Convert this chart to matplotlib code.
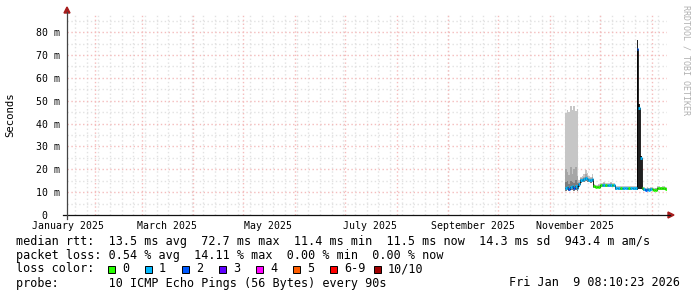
import matplotlib
matplotlib.use('Agg')
import matplotlib.pyplot as plt
import matplotlib.dates as mdates
from matplotlib.patches import Polygon, Rectangle
import numpy as np
import pandas as pd

# dati (valori giornalieri in ms, dal 10 nov 2025)
first_day = '2025-11-10'
median = [11.8, 12.4, 11.5, 12.2, 12.8, 11.6, 12.5, 11.9,
          13.5, 15.3, 15.5, 15.8, 16.4, 15.6, 15.5, 15.4, 15.6,
          12.6, 12.4, 12.3, 12.4, 13.0,
          13.1, 13.2, 13.1, 13.0, 13.1, 13.2, 13.1, 13.0,
          11.7, 11.8, 11.6, 11.7, 11.7, 11.6, 11.8, 11.7, 11.6, 11.7, 11.8, 11.7, 11.6,
          72.7, 47.0, 25.0,
          11.6, 11.2, 11.0, 11.3, 11.1, 11.5,
          11.4, 11.0, 11.1, 11.6, 11.7, 11.6, 11.7, 11.6, 11.5, 11.5]
loss = [1, 1, 2, 1, 1, 2, 1, 1,
        1, 1, 1, 1, 1, 1, 1, 1, 1,
        0, 0, 0, 0, 0,
        1, 1, 0, 1, 1, 1, 0, 1,
        1, 1, 1, 0, 1, 1, 1, 1, 0, 1, 1, 1, 1,
        2, 1, 1,
        0, 1, 2, 1, 1, 1,
        0, 0, 0, 0, 0, 0, 0, 0, 0, 0]
ping_min = [10.6, 10.9, 10.5, 10.8, 11.0, 10.6, 10.9, 10.7,
            12.2, 14.1, 14.3, 14.5, 14.8, 14.4, 14.3, 14.2, 14.4,
            11.8, 11.7, 11.6, 11.7, 12.2,
            12.3, 12.4, 12.3, 12.2, 12.3, 12.4, 12.3, 12.2,
            11.1, 11.2, 11.0, 11.1, 11.1, 11.0, 11.2, 11.1, 11.0, 11.1, 11.2, 11.1, 11.0,
            11.0, 11.2, 11.3,
            11.0, 10.7, 10.5, 10.8, 10.6, 10.9,
            10.9, 10.5, 10.6, 11.0, 11.1, 11.0, 11.1, 11.0, 10.9, 10.9]
ping_max = [44.5, 46.0, 45.0, 47.5, 46.0, 47.8, 45.5, 46.2,
            15.5, 16.8, 17.2, 17.8, 19.6, 18.2, 17.0, 16.6, 18.0,
            13.6, 13.3, 13.2, 13.5, 14.2,
            14.0, 14.4, 13.9, 14.1, 14.2, 14.5, 14.0, 13.9,
            12.6, 12.9, 12.5, 12.7, 12.8, 12.5, 12.9, 12.6, 12.6, 12.8, 12.9, 12.7, 12.5,
            76.6, 48.5, 25.8,
            12.4, 12.1, 11.9, 12.3, 12.0, 12.4,
            12.2, 11.8, 12.0, 12.5, 12.6, 12.4, 12.6, 12.5, 12.3, 12.3]
ping_mid = [20.0, 19.0, 17.5, 21.0, 18.0, 20.0, 21.2, 17.2,
            14.5, 16.0, 16.3, 16.6, 17.8, 16.9, 16.2, 16.0, 16.6,
            13.0, 12.9, 12.8, 13.0, 13.6,
            13.6, 13.8, 13.5, 13.5, 13.6, 13.8, 13.5, 13.4,
            12.2, 12.4, 12.1, 12.2, 12.3, 12.1, 12.4, 12.2, 12.1, 12.3, 12.4, 12.2, 12.1,
            76.6, 48.5, 25.8,
            12.0, 11.7, 11.5, 11.8, 11.6, 12.0,
            11.9, 11.5, 11.6, 12.1, 12.2, 12.1, 12.2, 12.1, 11.9, 11.9]
ping_core = [14.5, 15.0, 13.6, 15.0, 14.6, 14.0, 15.4, 14.0,
             13.9, 15.6, 15.8, 16.1, 16.8, 15.9, 15.8, 15.7, 15.9,
             12.7, 12.6, 12.5, 12.6, 13.3,
             13.4, 13.5, 13.3, 13.2, 13.3, 13.5, 13.3, 13.2,
             11.9, 12.0, 11.8, 11.9, 11.9, 11.8, 12.0, 11.9, 11.8, 11.9, 12.0, 11.9, 11.8,
             76.6, 48.5, 25.8,
             11.8, 11.4, 11.2, 11.5, 11.3, 11.7,
             11.6, 11.2, 11.3, 11.8, 11.9, 11.8, 11.9, 11.8, 11.7, 11.7]

loss_labels = ['0', '1', '2', '3', '4', '5', '6-9', '10/10']
loss_colors = ['#26ff00', '#00b8ff', '#0059ff', '#5e00ff', '#ff00ff', '#ff5e00', '#ff0000', '#a00000']

y_ticks = [0, 10, 20, 30, 40, 50, 60, 70, 80]
y_tick_labels = ['0  ', '10 m', '20 m', '30 m', '40 m', '50 m', '60 m', '70 m', '80 m']
x_label_months = ['2025-01-01', '2025-03-01', '2025-05-01', '2025-07-01', '2025-09-01', '2025-11-01']
x_labels = ['January 2025', 'March 2025', 'May 2025', 'July 2025', 'September 2025', 'November 2025']

legend_rows = ['median rtt:  13.5 ms avg  72.7 ms max  11.4 ms min  11.5 ms now  14.3 ms sd  943.4 m am/s',
               'packet loss: 0.54 % avg  14.11 % max  0.00 % min  0.00 % now',
               'loss color:',
               'probe:       10 ICMP Echo Pings (56 Bytes) every 90s']
timestamp = 'Fri Jan  9 08:10:23 2026'

W, H = 697, 297
mono = 'DejaVu Sans Mono'

def fx(x):
    return x / W

def fy(y):
    return 1 - y / H

fig = plt.figure(figsize=(W / 100, H / 100), dpi=100)
fig.patch.set_facecolor('white')
ax = fig.add_axes([fx(67), fy(215), 600 / W, 202 / H])
ax.set_facecolor('white')
for s in ax.spines.values():
    s.set_visible(False)

t0 = pd.Timestamp('2025-01-15 05:00')
t1 = pd.Timestamp('2026-01-10 05:00')
ax.set_xlim(mdates.date2num(t0), mdates.date2num(t1))
ax.set_ylim(0, 88.4)

# griglia: settimane (minore), mesi (maggiore)
weeks = pd.date_range('2025-01-20', t1, freq='7D')
months = pd.date_range('2025-02-01', t1, freq='MS')
gkw = dict(lw=1.0, ls=(0, (1, 1.8)), snap=True)
ax.vlines(mdates.date2num(weeks), 0, 88.4, colors='#e2e2e2', zorder=1, **gkw)
ax.hlines(np.arange(5, 88, 10), mdates.date2num(t0), mdates.date2num(t1), colors='#e2e2e2', zorder=1, **gkw)
ax.vlines(mdates.date2num(months), 0, 88.4, colors='#f4bcbc', zorder=2, **gkw)
ax.hlines(np.arange(10, 85, 10), mdates.date2num(t0), mdates.date2num(t1), colors='#f4bcbc', zorder=2, **gkw)

# smoke
days = pd.date_range(first_day, periods=len(median), freq='D')
edges = mdates.date2num(list(days) + [days[-1] + pd.Timedelta(days=1)])
lo = np.array(ping_min)
core = np.array(ping_core)
ax.stairs(ping_max, edges, baseline=lo, fill=True, color='#c6c6c6', lw=0, zorder=3)
ax.stairs(ping_mid, edges, baseline=lo, fill=True, color='#a6a6a6', lw=0, zorder=4)
ax.stairs(core, edges, baseline=lo, fill=True, color='#7c7c7c', lw=0, zorder=5)
ax.stairs(np.where(core > 20, core, lo), edges, baseline=lo, fill=True, color='#202020', lw=0, zorder=6)

# mediana colorata per perdita pacchetti
ax.stairs(median, edges, baseline=None, color='black', lw=0.6, zorder=7)
ax.hlines(median, edges[:-1], edges[1:], colors=[loss_colors[l] for l in loss], lw=2.0, capstyle='butt', zorder=8)

# etichette assi
ax.set_yticks(y_ticks, y_tick_labels, family=mono, fontsize=7.1)
lab_pos = [mdates.date2num(pd.Timestamp(m) + pd.Timedelta(days=15)) for m in x_label_months]
ax.set_xticks(lab_pos, x_labels, family=mono, fontsize=7.1)
ax.tick_params(axis='both', length=0)
ax.tick_params(axis='y', pad=5)
ax.tick_params(axis='x', pad=4)
fig.text(fx(10), fy(115), 'Seconds', family=mono, fontsize=7.7, rotation=90, ha='center', va='center')

# assi e frecce
fig.add_artist(plt.Line2D([fx(63), fx(670)], [fy(215), fy(215)], color='#111111', lw=0.9, transform=fig.transFigure))
fig.add_artist(plt.Line2D([fx(67), fx(67)], [fy(219), fy(12)], color='#444444', lw=0.9, transform=fig.transFigure))
fig.add_artist(Polygon([[fx(668), fy(212)], [fx(674), fy(215)], [fx(668), fy(218)]], closed=True,
                       color='#a61c1c', transform=fig.transFigure))
fig.add_artist(Polygon([[fx(64), fy(13)], [fx(67), fy(7)], [fx(70), fy(13)]], closed=True,
                       color='#a61c1c', transform=fig.transFigure))

# watermark
fig.text(fx(686), fy(5), 'RRDTOOL / TOBI OETIKER', family=mono, fontsize=6, rotation=-90,
         color='#b0b0b0', ha='center', va='top')

# legenda
fs = 8.45
row_y = [241, 255, 269, 283]
for txt, y in zip(legend_rows, row_y):
    fig.text(fx(16), fy(y), txt, family=mono, fontsize=fs, ha='left', va='center')
fig.text(fx(680), fy(row_y[3]), timestamp, family=mono, fontsize=fs, ha='right', va='center')

box_x = [108, 145, 182, 219, 256, 293, 330, 374]
for bx, lab, col in zip(box_x, loss_labels, loss_colors):
    fig.add_artist(Rectangle((fx(bx), fy(row_y[2] + 3.5)), 7 / W, 7 / H, facecolor=col,
                             edgecolor='black', lw=0.7, transform=fig.transFigure))
    fig.text(fx(bx + 14), fy(row_y[2]), lab, family=mono, fontsize=fs, ha='left', va='center')

fig.savefig('out.png', dpi=100, facecolor='white')
